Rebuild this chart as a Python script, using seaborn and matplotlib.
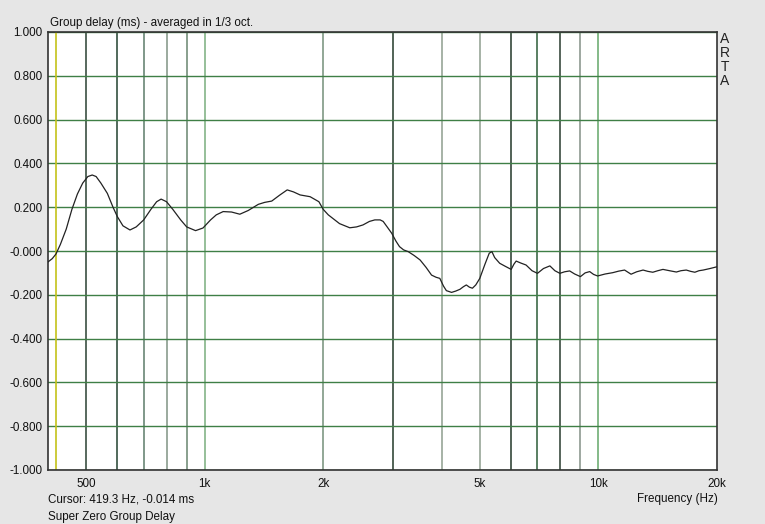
import numpy as np
import pandas as pd
import seaborn as sns
import matplotlib.pyplot as plt

# group delay curve (Hz, ms)
freq = [400, 410, 419, 430, 445, 460, 475, 490, 505, 518, 530, 545, 566, 585,
        600, 620, 646, 670, 700, 730, 755, 775, 800, 830, 869, 900, 948, 990,
        1035, 1070, 1114, 1170, 1228, 1290, 1368, 1420, 1480, 1550, 1620, 1680,
        1747, 1852, 1950, 2000, 2060, 2200, 2336, 2430, 2523, 2620, 2704, 2790,
        2840, 2920, 2985, 3060, 3124, 3200, 3288, 3400, 3524, 3650, 3768, 3870,
        3955, 4040, 4109, 4236, 4340, 4448, 4540, 4618, 4700, 4785, 4880, 4996,
        5150, 5280, 5363, 5450, 5612, 5800, 6003, 6100, 6180, 6350, 6548, 6780,
        7000, 7250, 7527, 7750, 7980, 8200, 8450, 8700, 9000, 9250, 9500, 9720,
        9950, 10400, 10870, 11250, 11650, 12100, 12500, 12980, 13350, 13740,
        14150, 14580, 15150, 15770, 16200, 16710, 17150, 17570, 18000, 18450,
        19200, 20000]
delay = [-0.05, -0.035, -0.014, 0.03, 0.1, 0.19, 0.26, 0.31, 0.34, 0.347, 0.34,
         0.31, 0.263, 0.2, 0.157, 0.115, 0.096, 0.11, 0.142, 0.19, 0.225, 0.237,
         0.225, 0.19, 0.142, 0.11, 0.093, 0.105, 0.142, 0.165, 0.18, 0.178,
         0.168, 0.185, 0.213, 0.222, 0.228, 0.255, 0.279, 0.27, 0.256, 0.248,
         0.225, 0.19, 0.165, 0.125, 0.106, 0.11, 0.119, 0.135, 0.142, 0.142,
         0.135, 0.105, 0.081, 0.045, 0.02, 0.005, -0.003, -0.02, -0.041, -0.075,
         -0.11, -0.12, -0.125, -0.16, -0.181, -0.189, -0.183, -0.175, -0.163,
         -0.155, -0.165, -0.17, -0.155, -0.125, -0.06, -0.01, -0.003, -0.03,
         -0.056, -0.07, -0.084, -0.06, -0.046, -0.055, -0.064, -0.09, -0.102,
         -0.08, -0.068, -0.09, -0.102, -0.095, -0.091, -0.105, -0.117, -0.1,
         -0.094, -0.107, -0.114, -0.105, -0.099, -0.092, -0.087, -0.106, -0.095,
         -0.087, -0.093, -0.097, -0.09, -0.084, -0.09, -0.096, -0.09, -0.087,
         -0.093, -0.097, -0.09, -0.087, -0.08, -0.072]

ytick_vals = [1.0, 0.8, 0.6, 0.4, 0.2, 0.0, -0.2, -0.4, -0.6, -0.8, -1.0]
ytick_txt = ["1.000", "0.800", "0.600", "0.400", "0.200", "-0.000",
             "-0.200", "-0.400", "-0.600", "-0.800", "-1.000"]
xtick_vals = [500, 1000, 2000, 5000, 10000, 20000]
xtick_txt = ["500", "1k", "2k", "5k", "10k", "20k"]

# vertical grid lines and the shade each one has in the picture
vgrid = [500, 600, 700, 800, 900, 1000, 2000, 3000, 4000, 5000,
         6000, 7000, 8000, 9000, 10000]
vgrid_col = ["#3b4f42", "#34503f", "#6a8675", "#8a9c8e", "#748f7a", "#84b487",
             "#7f9884", "#33493a", "#97a597", "#97a597", "#34473a", "#3d6a48",
             "#3a4a3e", "#8e9a90", "#6fae74"]
cursor_f = 419.3

sns.set_style("white")
plt.rcParams['font.family'] = ['Liberation Sans', 'DejaVu Sans']

fig = plt.figure(figsize=(7.65, 5.24), dpi=100, facecolor="#e6e6e6")
ax = fig.add_axes([48/765, 1 - 470/524, 669/765, 438/524])
ax.set_facecolor("white")

for f, c in zip(vgrid, vgrid_col):
    ax.axvline(f, color=c, lw=1.2, zorder=1)
for v in ytick_vals:
    ax.axhline(v, color="#3f7f46", lw=1.0, zorder=1)
ax.axvline(cursor_f, color="#c4c21a", lw=1.2, zorder=2)

df = pd.DataFrame({"freq": freq, "delay": delay})
sns.lineplot(data=df, x="freq", y="delay", color="#222222", lw=0.9, ax=ax, zorder=3)

ax.set_xscale("log")
ax.set_xlim(400, 20000)
ax.set_ylim(-1, 1)
ax.set_xticks(xtick_vals)
ax.set_xticklabels(xtick_txt)
ax.minorticks_off()
ax.set_yticks(ytick_vals)
ax.set_yticklabels(ytick_txt)
ax.tick_params(length=0, labelsize=8.4, colors="#111111", pad=4)
ax.tick_params(axis="x", pad=6)
ax.set_xlabel("")
ax.set_ylabel("")
for s in ax.spines.values():
    s.set_color("#333333")
    s.set_linewidth(1.2)

fig.text(50/765, 1 - 26/524, "Group delay (ms) - averaged in 1/3 oct.", fontsize=8.4, color="#111111")
fig.text(48/765, 1 - 502/524, "Cursor: 419.3 Hz, -0.014 ms", fontsize=8.4, color="#111111")
fig.text(48/765, 1 - 520/524, "Super Zero Group Delay", fontsize=8.4, color="#111111")
fig.text(718/765, 1 - 502/524, "Frequency (Hz)", fontsize=8.4, color="#111111", ha="right")
# vertical ARTA tag as one text block
fig.text(725/765, 1 - 32/524, "A\nR\nT\nA", fontsize=10, color="#222222",
         ha="center", va="top", linespacing=1.0, multialignment="center")

fig.savefig("out.png", dpi=100, facecolor=fig.get_facecolor())
